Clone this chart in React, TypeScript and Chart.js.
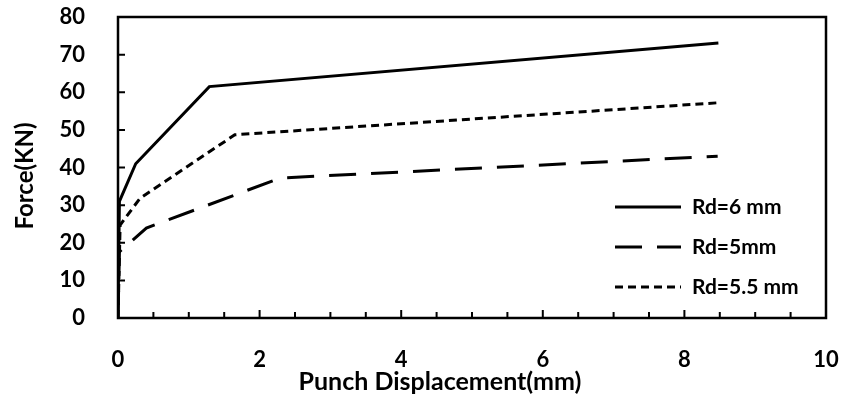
import React, { useEffect, useRef } from "react";
import { Chart, registerables } from "chart.js";
Chart.register(...registerables);

const seriesNames = ["Rd=6 mm", "Rd=5mm", "Rd=5.5 mm"];
const rd6X = [0, 0.02, 0.25, 1.29, 8.48];
const rd6Y = [0, 31, 41, 61.5, 73.1];
const rd5X = [0, 0.02, 0.4, 2.29, 8.47];
const rd5Y = [0, 17.6, 23.9, 37.2, 43];
const rd55X = [0, 0.03, 0.31, 1.65, 8.47];
const rd55Y = [0, 24.7, 31.8, 48.7, 57.2];
const dashes = [[], [27, 15], [8, 5]];
const xTicksMinor = [0, 0.5, 1, 1.5, 2, 2.5, 3, 3.5, 4, 4.5, 5, 5.5, 6, 6.5, 7, 7.5, 8, 8.5, 9, 9.5, 10];
const yTicks = [0, 10, 20, 30, 40, 50, 60, 70, 80];
const xTitle = "Punch Displacement(mm)";
const yTitle = "Force(KN)";

const FONT = "Lato, 'Open Sans', sans-serif";

const zip = (xs: number[], ys: number[]) => xs.map((x, i) => ({ x, y: ys[i] }));

const framePlugin = {
  id: "frame",
  afterDatasetsDraw(chart: any) {
    const { ctx, chartArea: a, scales } = chart;
    ctx.save();
    ctx.strokeStyle = "#000";
    ctx.lineWidth = 2.5;
    ctx.setLineDash([]);
    ctx.strokeRect(a.left, a.top, a.right - a.left, a.bottom - a.top);
    ctx.lineWidth = 2;
    ctx.beginPath();
    for (const v of xTicksMinor) {
      const px = scales.x.getPixelForValue(v);
      const len = v % 2 === 0 ? 8 : 6;
      ctx.moveTo(px, a.bottom);
      ctx.lineTo(px, a.bottom - len);
    }
    for (const v of yTicks) {
      const py = scales.y.getPixelForValue(v);
      ctx.moveTo(a.left, py);
      ctx.lineTo(a.left + 7, py);
    }
    ctx.stroke();
    // axis titles
    ctx.fillStyle = "#000";
    ctx.textBaseline = "middle";
    ctx.textAlign = "center";
    ctx.font = `bold 25px ${FONT}`;
    ctx.fillText(xTitle, 440, 382);
    ctx.save();
    ctx.translate(25, 176);
    ctx.rotate(-Math.PI / 2);
    ctx.font = `bold 24px ${FONT}`;
    ctx.fillText(yTitle, 0, 0);
    ctx.restore();
    // legend
    const lx0 = 615, lx1 = 681, tx = 692;
    const rows = [207, 247, 287];
    ctx.font = `bold 21px ${FONT}`;
    ctx.textAlign = "left";
    seriesNames.forEach((name, i) => {
      ctx.lineWidth = 3;
      ctx.setLineDash(dashes[i]);
      ctx.beginPath();
      ctx.moveTo(lx0, rows[i]);
      ctx.lineTo(lx1, rows[i]);
      ctx.stroke();
      ctx.setLineDash([]);
      ctx.fillText(name, tx, rows[i]);
    });
    ctx.restore();
  },
};

export default function App() {
  const ref = useRef<HTMLCanvasElement>(null);
  useEffect(() => {
    document.body.style.margin = "0";
    const data = {
      datasets: [
        { label: seriesNames[0], data: zip(rd6X, rd6Y), borderDash: dashes[0] },
        { label: seriesNames[1], data: zip(rd5X, rd5Y), borderDash: dashes[1] },
        { label: seriesNames[2], data: zip(rd55X, rd55Y), borderDash: dashes[2] },
      ].map((d) => ({
        ...d,
        borderColor: "#000",
        backgroundColor: "#000",
        borderWidth: 3,
        pointRadius: 0,
        tension: 0,
        fill: false,
      })),
    };
    const chart = new Chart(ref.current!, {
      type: "line",
      data,
      options: {
        animation: false,
        responsive: false,
        layout: { autoPadding: false, padding: { top: 17, right: 15, left: 0, bottom: 0 } },
        plugins: { legend: { display: false }, tooltip: { enabled: false } },
        scales: {
          x: {
            type: "linear",
            min: 0,
            max: 10,
            grid: { display: false },
            border: { display: false },
            ticks: {
              stepSize: 2,
              color: "#000",
              padding: 21,
              font: { family: FONT, size: 22, weight: "bold" },
            },
            afterFit: (s: any) => {
              s.height = 83;
              s.paddingLeft = 0;
              s.paddingRight = 0;
            },
          },
          y: {
            type: "linear",
            min: 0,
            max: 80,
            grid: { display: false },
            border: { display: false },
            ticks: {
              stepSize: 10,
              color: "#000",
              padding: 25,
              font: { family: FONT, size: 22, weight: "bold" },
            },
            afterFit: (s: any) => {
              s.width = 118;
              s.paddingTop = 0;
              s.paddingBottom = 0;
            },
          },
        },
      },
      plugins: [framePlugin],
    });
    return () => chart.destroy();
  }, []);
  return <canvas ref={ref} width={841} height={401} style={{ display: "block" }} />;
}
